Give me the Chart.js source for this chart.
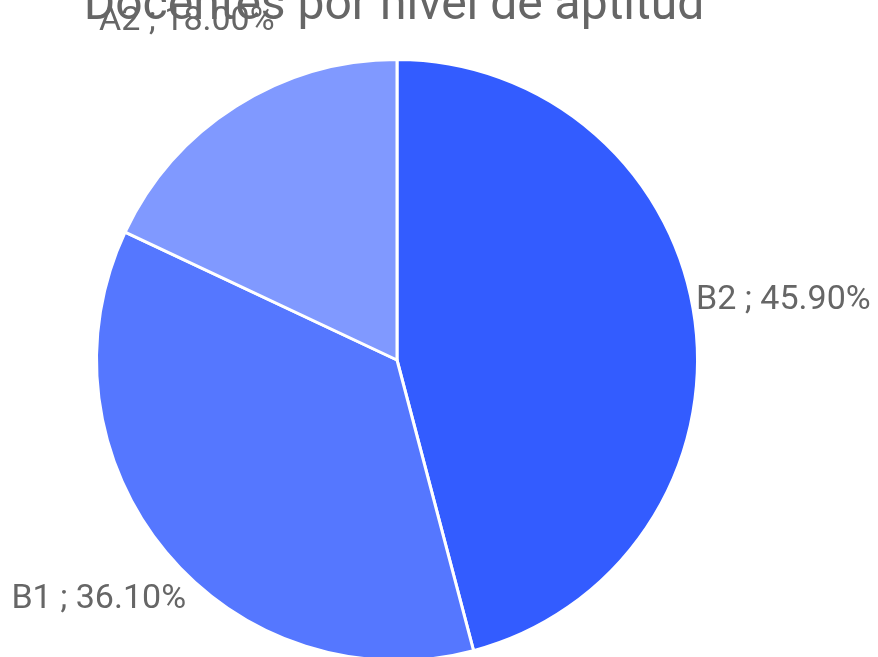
<!DOCTYPE html>
<html>
<head>
<meta charset="utf-8">
<script src="https://cdn.jsdelivr.net/npm/chart.js@4/dist/chart.umd.min.js"></script>
<style>
    html, body { margin: 0; padding: 0; background: #fff; overflow: hidden; }
    canvas { display: block; }
</style>
</head>
<body>
<canvas id="pieChart" width="878" height="664"></canvas>
<script>
// Data
const chartTitle = 'Docentes por nivel de aptitud';
const categories = ['B2', 'B1', 'A2'];
const shares = [45.9, 36.1, 18.0];
const sliceColors = ['#335cff', '#5577ff', '#8099ff'];

// label placement relative to the outer middle of each slice: [dx, dy, align]
const labelOffsets = [
    [1, -12, 'left'],
    [20, 56, 'right'],
    [-137, -76, 'left']
];

const textColor = '#666666';

// Draw title and outside labels
const outsideLabels = {
    id: 'outsideLabels',
    afterDraw(chart) {
        const ctx = chart.ctx;
        const arcs = chart.getDatasetMeta(0).data;
        ctx.save();
        ctx.fillStyle = textColor;
        ctx.textBaseline = 'alphabetic';

        arcs.forEach((arc, i) => {
            const p = arc.getProps(['x', 'y', 'startAngle', 'endAngle', 'outerRadius'], true);
            const mid = (p.startAngle + p.endAngle) / 2;
            const px = p.x + Math.cos(mid) * p.outerRadius;
            const py = p.y + Math.sin(mid) * p.outerRadius;
            const [dx, dy, align] = labelOffsets[i];
            ctx.font = '34px Roboto';
            ctx.textAlign = align;
            const text = `${categories[i]} ; ${shares[i].toFixed(2)}%`;
            ctx.fillText(text, px + dx, py + dy);
        });

        // title, partly cut off at the top like the original
        const cx = arcs[0].x;
        ctx.font = '48px Roboto';
        ctx.textAlign = 'center';
        ctx.fillText(chartTitle, cx - 3, 19);
        ctx.restore();
    }
};

const ctx = document.getElementById('pieChart').getContext('2d');
const pieChart = new Chart(ctx, {
    type: 'pie',
    data: {
        labels: categories,
        datasets: [{
            data: shares,
            backgroundColor: sliceColors,
            borderColor: '#ffffff',
            borderWidth: 3
        }]
    },
    options: {
        responsive: false,
        animation: false,
        layout: {
            padding: { left: 95, right: 179, top: 58, bottom: 2 }
        },
        plugins: {
            legend: { display: false },
            tooltip: { enabled: false },
            title: { display: false }
        }
    },
    plugins: [outsideLabels]
});
</script>
</body>
</html>
